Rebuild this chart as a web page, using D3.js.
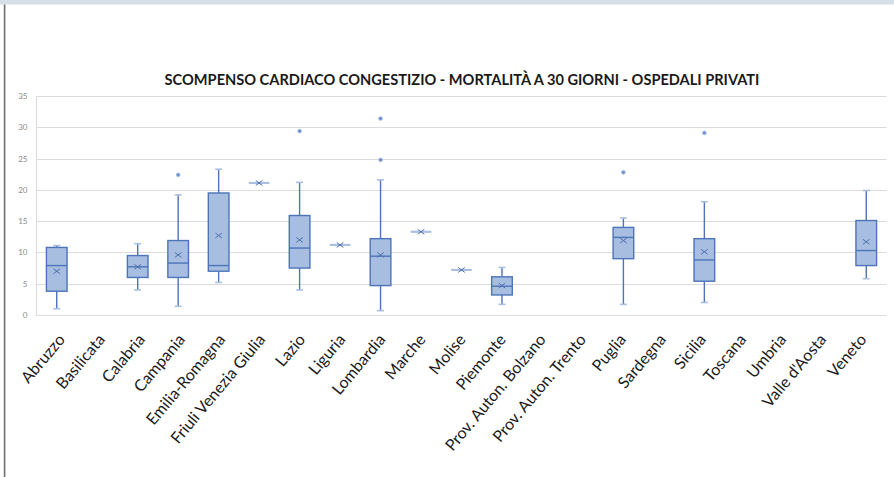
<!DOCTYPE html>
<html>
<head>
<meta charset="utf-8">
<script src="https://cdn.jsdelivr.net/npm/d3@7"></script>
<style>
  html, body { margin: 0; padding: 0; background: #fff; }
  svg { display: block; }
</style>
</head>
<body>
<svg id="chart" width="894" height="477"></svg>
<script>
// Regions (x categories)
const categories = ["Abruzzo", "Basilicata", "Calabria", "Campania", "Emilia-Romagna",
  "Friuli Venezia Giulia", "Lazio", "Liguria", "Lombardia", "Marche", "Molise",
  "Piemonte", "Prov. Auton. Bolzano", "Prov. Auton. Trento", "Puglia", "Sardegna",
  "Sicilia", "Toscana", "Umbria", "Valle d'Aosta", "Veneto"];

// Box-plot statistics per region (null = no private hospitals reported)
const whiskerMin = [1.0, null, 4.0, 1.4, 5.2, 21.1, 4.0, 11.2, 0.7, 13.3, 7.2, 1.7, null, null, 1.7, null, 2.0, null, null, null, 5.8];
const quartile1  = [3.8, null, 6.0, 6.0, 7.0, 21.1, 7.5, 11.2, 4.7, 13.3, 7.2, 3.2, null, null, 9.0, null, 5.4, null, null, null, 7.9];
const median     = [7.9, null, 7.7, 8.3, 7.9, 21.1, 10.7, 11.2, 9.4, 13.3, 7.2, 4.6, null, null, 12.4, null, 8.8, null, null, null, 10.3];
const quartile3  = [10.8, null, 9.5, 11.9, 19.5, 21.1, 15.9, 11.2, 12.2, 13.3, 7.2, 6.1, null, null, 14.0, null, 12.2, null, null, null, 15.1];
const whiskerMax = [11.1, null, 11.4, 19.2, 23.3, 21.1, 21.2, 11.2, 21.6, 13.3, 7.2, 7.6, null, null, 15.5, null, 18.1, null, null, null, 19.9];
const meanValue  = [7.0, null, 7.7, 9.6, 12.7, 21.1, 12.0, 11.2, 9.6, 13.3, 7.2, 4.7, null, null, 11.9, null, 10.1, null, null, null, 11.7];
const outliers   = [[], [], [], [22.4], [], [], [29.4], [], [31.4, 24.8], [], [], [], [], [], [22.8], [], [29.1], [], [], [], []];

// Value axis ticks
const yTicks = [0, 5, 10, 15, 20, 25, 30, 35];

const chartTitle = "SCOMPENSO CARDIACO CONGESTIZIO - MORTALITÀ A 30 GIORNI - OSPEDALI PRIVATI";

const svg = d3.select("#chart");

// Window frame: top band and left edge line
svg.append("rect").attr("x", 0).attr("y", 0).attr("width", 894).attr("height", 4.5).attr("fill", "#d6dee7");
svg.append("line").attr("x1", 4.6).attr("x2", 4.6).attr("y1", 4.5).attr("y2", 477)
  .attr("stroke", "#6f6f6f").attr("stroke-width", 1.6);

const plot = { left: 36.5, right: 886.5, top: 96, bottom: 315 };

const x = d3.scaleBand().domain(categories).range([plot.left, plot.right]).paddingInner(0).paddingOuter(0);
const y = d3.scaleLinear().domain([0, 35]).range([plot.bottom, plot.top]);

// Title
svg.append("text")
  .attr("x", 462).attr("y", 85)
  .attr("text-anchor", "middle")
  .attr("font-family", "Lato, 'Open Sans', sans-serif")
  .attr("font-weight", "bold")
  .attr("font-size", "14.6px")
  .attr("fill", "#1a1a1a")
  .text(chartTitle);

// Gridlines
const grid = svg.append("g");
grid.selectAll("line").data(yTicks).join("line")
  .attr("x1", plot.left).attr("x2", plot.right)
  .attr("y1", d => Math.round(y(d)) + 0.5).attr("y2", d => Math.round(y(d)) + 0.5)
  .attr("stroke", "#dcdcdc").attr("stroke-width", 1);
// Plot-area left border
svg.append("line").attr("x1", plot.left).attr("x2", plot.left)
  .attr("y1", plot.top).attr("y2", plot.bottom + 0.5)
  .attr("stroke", "#dcdcdc").attr("stroke-width", 1);

// Y axis labels
const yAxis = d3.axisLeft(y).tickValues(yTicks).tickSize(0).tickPadding(9);
const yg = svg.append("g").attr("transform", `translate(${plot.left},0)`).call(yAxis);
yg.select(".domain").remove();
yg.selectAll("text")
  .attr("font-family", "Lato, 'Open Sans', sans-serif")
  .attr("font-size", "8px")
  .attr("fill", "#8a8a8a");

// X axis labels (rotated)
const labelX = d3.scalePoint().domain(categories).range([x(categories[0]) + x.bandwidth() / 2 + 9, x(categories[20]) + x.bandwidth() / 2 + 1]);
const xl = svg.append("g");
xl.selectAll("text").data(categories).join("text")
  .attr("transform", d => `translate(${labelX(d)},${plot.bottom + 25}) rotate(-50)`)
  .attr("text-anchor", "end")
  .attr("font-family", "Lato, 'Open Sans', sans-serif")
  .attr("font-size", "16px")
  .attr("fill", "#1a1a1a")
  .text(d => d);

// Box plots
const boxW = x.bandwidth() * 0.51;
const capW = 7;
const strokeDark = "#4d74b8";
const fillBox = "#a7bee1";
const capColor = "#a9c0e3";

const stats = categories.map((c, i) => ({
  c, min: whiskerMin[i], q1: quartile1[i], med: median[i], q3: quartile3[i],
  max: whiskerMax[i], mean: meanValue[i], out: outliers[i]
})).filter(d => d.med !== null);

const g = svg.append("g");
stats.forEach(d => {
  const cx = x(d.c) + x.bandwidth() / 2;
  const gg = g.append("g");
  if (d.q1 === d.q3) {
    // Single-hospital region: box collapses to a line
    gg.append("line").attr("x1", cx - boxW / 2).attr("x2", cx + boxW / 2)
      .attr("y1", y(d.med)).attr("y2", y(d.med))
      .attr("stroke", capColor).attr("stroke-width", 2.2);
  } else {
    // Whiskers
    gg.append("line").attr("x1", cx).attr("x2", cx).attr("y1", y(d.q3)).attr("y2", y(d.max))
      .attr("stroke", strokeDark).attr("stroke-width", 1.4);
    gg.append("line").attr("x1", cx).attr("x2", cx).attr("y1", y(d.q1)).attr("y2", y(d.min))
      .attr("stroke", strokeDark).attr("stroke-width", 1.4);
    // Caps
    [d.max, d.min].forEach(v => {
      gg.append("line").attr("x1", cx - capW / 2).attr("x2", cx + capW / 2)
        .attr("y1", y(v)).attr("y2", y(v))
        .attr("stroke", capColor).attr("stroke-width", 1.6);
    });
    // Box
    gg.append("rect").attr("x", cx - boxW / 2).attr("width", boxW)
      .attr("y", y(d.q3)).attr("height", y(d.q1) - y(d.q3))
      .attr("fill", fillBox).attr("stroke", strokeDark).attr("stroke-width", 1.4);
    // Median
    gg.append("line").attr("x1", cx - boxW / 2).attr("x2", cx + boxW / 2)
      .attr("y1", y(d.med)).attr("y2", y(d.med))
      .attr("stroke", strokeDark).attr("stroke-width", 1.4);
  }
  // Mean marker (X)
  const m = 3.3, my = y(d.mean);
  gg.append("path")
    .attr("d", `M${cx - m},${my - m * 0.75}L${cx + m},${my + m * 0.75}M${cx - m},${my + m * 0.75}L${cx + m},${my - m * 0.75}`)
    .attr("stroke", "#4f6fae").attr("stroke-width", 1).attr("fill", "none");
  // Outliers
  gg.selectAll("circle").data(d.out).join("circle")
    .attr("cx", cx).attr("cy", v => y(v)).attr("r", 1.9)
    .attr("fill", "#6f8fcc").attr("stroke", "#a9c0e3").attr("stroke-width", 0.8);
});
</script>
</body>
</html>
